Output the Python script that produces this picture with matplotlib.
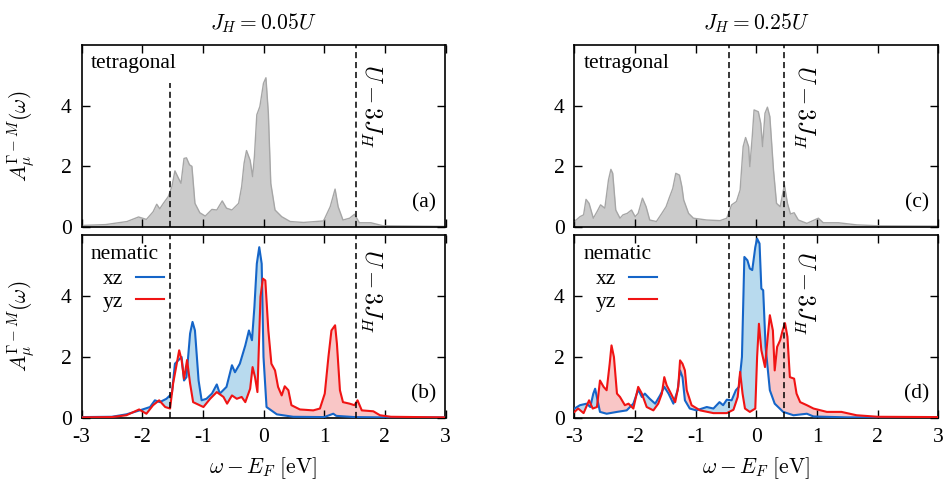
import numpy as np
import matplotlib
matplotlib.use("Agg")
import matplotlib.pyplot as plt
from matplotlib.patches import Polygon

plt.rcParams['font.family'] = 'serif'
plt.rcParams['font.serif'] = ['Liberation Serif', 'DejaVu Serif']
plt.rcParams['mathtext.fontset'] = 'cm'

# ---------------- data ----------------
# (a) tetragonal, J_H = 0.05U
xa = [-3.0, -2.6, -2.25, -2.06, -1.93, -1.82, -1.76, -1.71, -1.65, -1.57, -1.51, -1.46, -1.40, -1.36,
      -1.31, -1.27, -1.22, -1.18, -1.13, -1.05, -0.96, -0.85, -0.77, -0.68, -0.61, -0.52, -0.41,
      -0.36, -0.32, -0.28, -0.22, -0.18, -0.15, -0.11, -0.06, 0.0, 0.04, 0.08, 0.12, 0.19, 0.30,
      0.44, 0.66, 0.99, 1.10, 1.18, 1.23, 1.31, 1.42, 1.50, 1.58, 1.77, 1.97, 2.5, 3.0]
ya = [0.05, 0.08, 0.18, 0.33, 0.25, 0.50, 0.75, 0.60, 0.78, 1.00, 1.33, 1.85, 1.60, 1.44,
      2.26, 2.28, 2.05, 2.00, 0.78, 0.47, 0.36, 0.58, 0.56, 0.86, 0.62, 0.56, 0.78,
      1.33, 2.10, 2.52, 2.20, 1.66, 2.32, 3.70, 3.97, 4.74, 4.92, 3.75, 1.44, 0.56, 0.34,
      0.18, 0.15, 0.20, 0.67, 1.25, 0.67, 0.23, 0.29, 0.42, 0.14, 0.14, 0.04, 0.03, 0.02]

# (b) nematic, J_H = 0.05U
xb_xz = [-3.0, -2.5, -2.26, -2.04, -1.87, -1.79, -1.71, -1.60, -1.51, -1.46, -1.40, -1.35, -1.31,
         -1.27, -1.21, -1.17, -1.13, -1.07, -1.02, -0.94, -0.85, -0.77, -0.72, -0.61, -0.52, -0.47,
         -0.39, -0.30, -0.24, -0.19, -0.15, -0.11, -0.07, -0.03, 0.0, 0.05, 0.22, 0.49, 1.0, 1.15,
         1.20, 1.5, 2.0, 3.0]
yb_xz = [0.03, 0.04, 0.12, 0.25, 0.36, 0.58, 0.52, 0.63, 0.80, 1.78, 1.90, 2.00, 1.23,
         1.34, 2.77, 3.15, 2.87, 1.23, 0.58, 0.63, 0.80, 1.10, 0.80, 1.02, 1.73, 1.50,
         1.78, 2.38, 2.87, 2.55, 3.64, 5.06, 5.60, 5.06, 2.00, 0.36, 0.12, 0.04, 0.03, 0.14,
         0.07, 0.03, 0.02, 0.02]
xb_yz = [-3.0, -2.5, -2.26, -2.05, -1.93, -1.82, -1.72, -1.62, -1.54, -1.49, -1.43, -1.39, -1.35,
         -1.31, -1.26, -1.21, -1.16, -0.99, -0.88, -0.77, -0.66, -0.60, -0.52, -0.44, -0.36, -0.30,
         -0.22, -0.18, -0.14, -0.10, -0.05, -0.01, 0.03, 0.08, 0.13, 0.19, 0.24, 0.30, 0.35, 0.41,
         0.46, 0.60, 0.82, 0.93, 1.01, 1.07, 1.12, 1.18, 1.21, 1.26, 1.31, 1.42, 1.50, 1.55, 1.62,
         1.81, 1.92, 2.1, 3.0]
yb_yz = [0.02, 0.03, 0.09, 0.28, 0.14, 0.42, 0.58, 0.36, 0.31, 1.13, 1.78, 2.22, 1.90,
         1.29, 1.90, 1.13, 0.52, 0.36, 0.63, 0.85, 0.69, 0.47, 0.74, 0.63, 0.69, 0.52,
         0.96, 1.67, 1.34, 0.85, 3.97, 4.57, 4.51, 2.87, 1.78, 1.56, 1.02, 0.74, 1.04, 0.91,
         0.42, 0.28, 0.25, 0.31, 0.80, 2.00, 2.87, 3.04, 2.44, 0.91, 0.52, 0.47, 0.42, 0.58, 0.25,
         0.22, 0.09, 0.04, 0.02]

# (c) tetragonal, J_H = 0.25U
xc = [-3.0, -2.91, -2.85, -2.81, -2.76, -2.69, -2.63, -2.57, -2.50, -2.44, -2.40, -2.37, -2.32,
      -2.25, -2.20, -2.13, -2.06, -2.00, -1.95, -1.88, -1.82, -1.76, -1.65, -1.56, -1.49, -1.44,
      -1.38, -1.33, -1.27, -1.23, -1.20, -1.12, -1.04, -0.82, -0.60, -0.49, -0.41, -0.33, -0.27,
      -0.22, -0.18, -0.13, -0.11, -0.07, -0.04, 0.03, 0.07, 0.10, 0.14, 0.18, 0.22, 0.28, 0.33,
      0.39, 0.46, 0.51, 0.56, 0.62, 0.69, 0.83, 1.02, 1.10, 1.35, 1.65, 2.0, 3.0]
yc = [0.18, 0.34, 0.40, 0.91, 0.78, 0.29, 0.50, 0.73, 0.62, 1.55, 1.90, 1.77, 0.56,
      0.29, 0.40, 0.45, 0.56, 0.34, 0.45, 0.95, 0.67, 0.23, 0.18, 0.45, 0.67, 0.95,
      1.27, 1.77, 1.71, 1.33, 0.89, 0.45, 0.29, 0.23, 0.21, 0.29, 0.73, 0.84, 1.22,
      2.65, 2.95, 2.65, 1.99, 2.98, 3.86, 3.80, 3.42, 2.65, 3.75, 3.95, 3.64, 1.88, 0.78,
      0.67, 1.38, 0.78, 0.43, 0.47, 0.23, 0.12, 0.29, 0.14, 0.14, 0.07, 0.04, 0.03]

# (d) nematic, J_H = 0.25U
xd_xz = [-3.0, -2.91, -2.80, -2.74, -2.69, -2.66, -2.62, -2.58, -2.47, -2.30, -2.14, -2.03, -1.95,
         -1.89, -1.84, -1.76, -1.67, -1.59, -1.52, -1.45, -1.37, -1.30, -1.26, -1.22, -1.18, -1.10,
         -0.99, -0.82, -0.71, -0.61, -0.55, -0.49, -0.41, -0.34, -0.29, -0.24, -0.20, -0.15, -0.11,
         -0.07, -0.02, 0.01, 0.05, 0.08, 0.11, 0.15, 0.22, 0.30, 0.44, 0.61, 0.83, 0.94, 1.5, 3.0]
yd_xz = [0.31, 0.42, 0.47, 0.36, 0.80, 0.96, 0.58, 0.20, 0.14, 0.20, 0.25, 0.47, 0.93,
         0.69, 0.80, 0.63, 0.47, 0.74, 1.02, 0.80, 0.47, 0.91, 1.56, 1.34, 0.58, 0.31,
         0.25, 0.36, 0.31, 0.52, 0.42, 0.60, 0.58, 0.91, 1.02, 2.00, 5.28, 5.17, 4.90,
         4.85, 5.60, 5.88, 5.72, 4.24, 4.19, 2.33, 0.91, 0.47, 0.20, 0.09, 0.14, 0.05, 0.02, 0.02]
xd_yz = [-3.0, -2.94, -2.85, -2.76, -2.70, -2.63, -2.58, -2.52, -2.47, -2.42, -2.39, -2.35, -2.30,
         -2.25, -2.17, -2.11, -2.03, -1.95, -1.89, -1.81, -1.70, -1.62, -1.56, -1.52, -1.48, -1.41,
         -1.34, -1.29, -1.26, -1.22, -1.18, -1.15, -1.07, -0.93, -0.71, -0.49, -0.38, -0.31, -0.27,
         -0.23, -0.19, -0.11, -0.02, 0.01, 0.04, 0.08, 0.14, 0.18, 0.22, 0.27, 0.30, 0.34, 0.39,
         0.43, 0.47, 0.51, 0.55, 0.62, 0.66, 0.72, 0.83, 0.94, 1.16, 1.40, 1.65, 2.0, 3.0]
yd_yz = [0.20, 0.31, 0.16, 0.58, 0.31, 0.36, 1.23, 1.02, 0.91, 1.78, 2.38, 2.00, 0.80,
         0.69, 0.42, 0.47, 0.31, 1.02, 0.80, 0.36, 0.25, 0.47, 0.80, 1.34, 1.07, 0.80,
         0.52, 1.02, 1.89, 1.78, 1.56, 0.91, 0.42, 0.25, 0.16, 0.16, 0.27, 0.69, 1.51,
         0.80, 0.31, 0.20, 0.31, 2.00, 3.09, 2.22, 1.67, 2.55, 3.37, 2.87, 1.56, 2.33, 2.55,
         2.87, 3.11, 2.66, 1.34, 1.29, 0.80, 0.52, 0.42, 0.31, 0.20, 0.20, 0.09, 0.04, 0.03]

xticks = [-3, -2, -1, 0, 1, 2, 3]
yticks = [0, 2, 4]
titles = [r'$J_H=0.05U$', r'$J_H=0.25U$']
dash_left = [-1.54, 1.52]
dash_right = [-0.46, 0.45]

# ---------------- style ----------------
BLUE = '#1565c8'
RED = '#f01414'
LBLUE = '#b8daee'
LRED = '#f9c6c6'
GRAY = '#cbcbcb'
GRAYE = '#a6a6a6'
FS = 15.5

fig = plt.figure(figsize=(9.45, 4.87), dpi=100)
W = 364 / 945
lefts = [81.5 / 945, 574.5 / 945]
axT = [fig.add_axes([l, 260 / 487, W, 182 / 487]) for l in lefts]
axB = [fig.add_axes([l, 69 / 487, W, 183 / 487]) for l in lefts]


def style(ax, labels_x):
    ax.set_xlim(-3, 3)
    ax.set_ylim(0, 6)
    ax.set_xticks(xticks)
    ax.set_yticks(yticks)
    ax.tick_params(direction='in', top=True, right=True, length=6, width=1.0,
                   labelsize=FS, pad=7)
    if labels_x:
        ax.set_xticklabels([str(t) for t in xticks])
    else:
        ax.set_xticklabels([])
    for s in ax.spines.values():
        s.set_linewidth(1.2)


def over_poly(x, y):
    return list(zip(x, y)) + [(x[-1], 10), (x[0], 10)]


def nematic(ax, x1, y1, x2, y2):
    # light blue where xz above yz, light red where yz above xz
    f1 = ax.fill_between(x1, 0, y1, color=LBLUE, lw=0, zorder=1)
    f1.set_clip_path(Polygon(over_poly(x2, y2), closed=True, transform=ax.transData))
    f2 = ax.fill_between(x2, 0, y2, color=LRED, lw=0, zorder=1)
    f2.set_clip_path(Polygon(over_poly(x1, y1), closed=True, transform=ax.transData))
    ax.plot(x1, y1, color=BLUE, lw=1.5, zorder=3, label='xz')
    ax.plot(x2, y2, color=RED, lw=1.5, zorder=4, label='yz')
    ax.text(-2.85, 5.35, 'nematic', fontsize=FS, va='center', ha='left')
    ax.legend(loc='upper left', bbox_to_anchor=(0.035, 0.86), frameon=False,
              markerfirst=False, fontsize=FS, handlelength=1.3, handletextpad=0.6,
              labelspacing=0.1, borderaxespad=0.0)


# top panels
for i, (ax, x, y) in enumerate(zip(axT, [xa, xc], [ya, yc])):
    ax.fill_between(x, 0, y, color=GRAY, lw=0, zorder=1)
    ax.plot(x, y, color=GRAYE, lw=1.0, zorder=2)
    style(ax, False)
    ax.text(-2.85, 5.4, 'tetragonal', fontsize=FS, va='center', ha='left')
    ax.set_title(titles[i], fontsize=FS, pad=11)

# bottom panels
nematic(axB[0], xb_xz, yb_xz, xb_yz, yb_yz)
nematic(axB[1], xd_xz, yd_xz, xd_yz, yd_yz)
for ax in axB:
    style(ax, True)
    ax.set_xlabel(r'$\omega-E_F\ [\mathrm{eV}]$', fontsize=FS, labelpad=6)

# dashed lines
dkw = dict(color='black', lw=1.1, ls=(0, (4, 2.5)), zorder=5)
axT[0].plot([dash_left[0]] * 2, [0, 4.75], **dkw)
axT[0].plot([dash_left[1]] * 2, [0, 6], **dkw)
for xv in dash_left:
    axB[0].plot([xv] * 2, [0, 6], **dkw)
for xv in dash_right:
    axT[1].plot([xv] * 2, [0, 6], **dkw)
    axB[1].plot([xv] * 2, [0, 6], **dkw)

# U - 3J_H annotations
for ax, xv, yv in [(axT[0], 1.76, 4.0), (axB[0], 1.76, 4.15),
                   (axT[1], 0.77, 3.95), (axB[1], 0.77, 4.1)]:
    ax.text(xv, yv, r'$U-3J_H$', rotation=270, fontsize=17, ha='center', va='center')

# panel letters
for ax, lab in zip([axT[0], axB[0], axT[1], axB[1]], ['(a)', '(b)', '(c)', '(d)']):
    ax.text(2.85, 0.8, lab, fontsize=FS, ha='right', va='center')

# y labels
for ax in [axT[0], axB[0]]:
    ax.set_ylabel(r'$A_{\mu}^{\Gamma-M}(\omega)$', fontsize=FS)
    ax.yaxis.set_label_coords(-0.12, 0.5)

fig.savefig('out.png', dpi=100)
